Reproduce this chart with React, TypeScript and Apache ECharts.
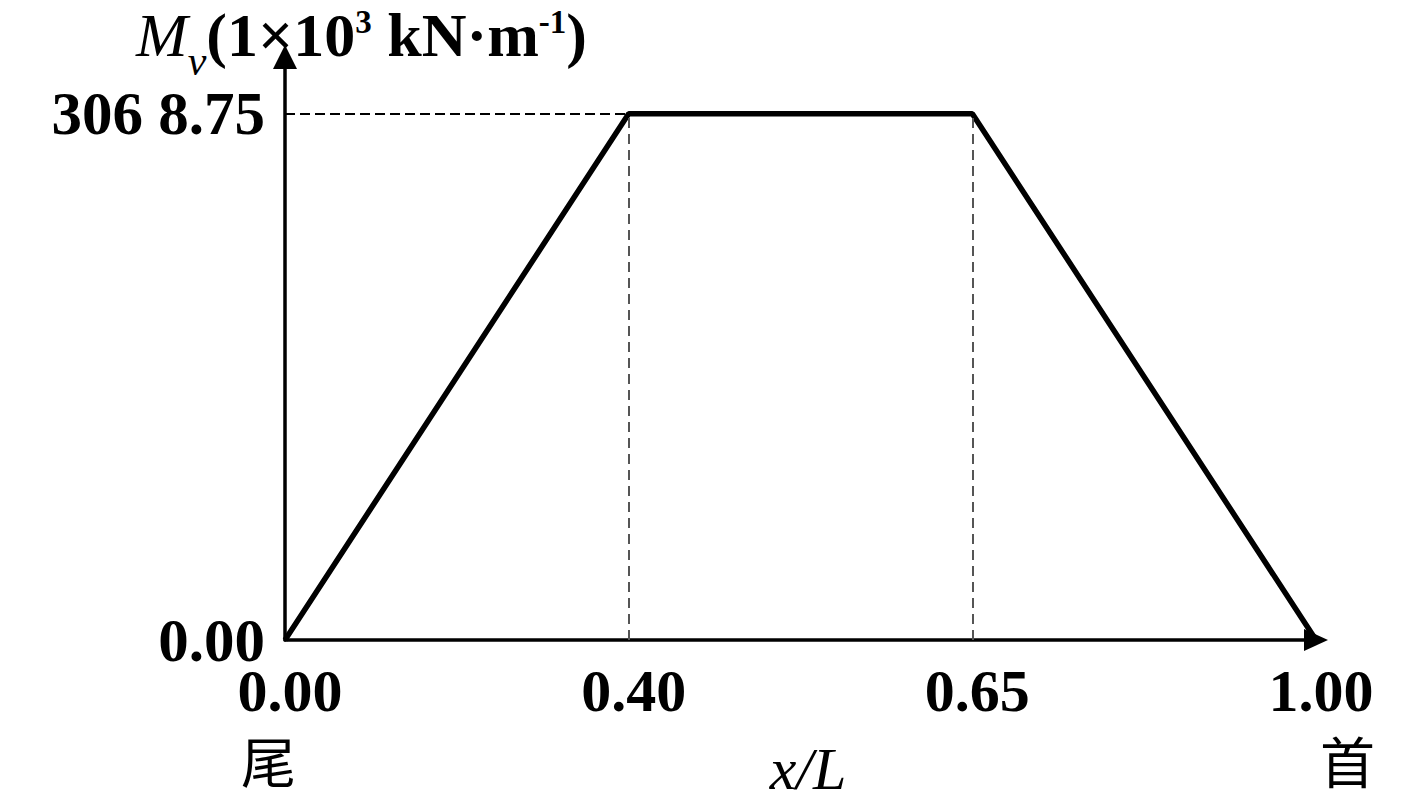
import React, { useEffect, useRef } from "react";
import * as echarts from "echarts";

const categories = ["0.00", "0.40", "0.65", "1.00"];
const endNames = ["尾", "", "", "首"];
const momentValues = [0, 3068.75, 3068.75, 0];
const yTickValues = [0, 3068.75];
const yTickLabels = ["0.00", "306 8.75"];
const yMax = 3400;

const SERIF = "'Liberation Serif', 'Times New Roman', serif";
const CJK = "'Noto Sans CJK SC', sans-serif";

export default function App() {
  const ref = useRef<HTMLDivElement>(null);

  useEffect(() => {
    document.body.style.margin = "0";
    document.body.style.overflow = "hidden";
    if (!ref.current) return;
    const chart = echarts.init(ref.current, null, { renderer: "svg" });
    const peak = momentValues[1];
    chart.setOption({
      animation: false,
      backgroundColor: "#ffffff",
      title: {
        left: 136,
        top: 5,
        padding: 0,
        text: "{mi|M}{sub|v}{b|(1×10}{sup|3}{b| kN·m}{sup|-1}{b|)}",
        textStyle: {
          rich: {
            mi: { fontFamily: SERIF, fontStyle: "italic", fontWeight: "normal", fontSize: 62, height: 60, lineHeight: 60, verticalAlign: "top", color: "#000" },
            sub: { fontFamily: SERIF, fontStyle: "italic", fontWeight: "normal", fontSize: 42, height: 112, lineHeight: 60, verticalAlign: "top", color: "#000" },
            b: { fontFamily: SERIF, fontWeight: "bold", fontSize: 62, height: 60, lineHeight: 60, verticalAlign: "top", color: "#000" },
            sup: { fontFamily: SERIF, fontWeight: "bold", fontSize: 33, height: 34, lineHeight: 60, verticalAlign: "top", color: "#000" },
          },
        },
      },
      grid: {
        left: 285,
        right: 101,
        top: 57,
        bottom: 161,
        containLabel: false,
        outerBoundsMode: "none",
      },
      xAxis: [
        {
          type: "category",
          data: categories,
          boundaryGap: false,
          name: "{i|x/L}",
          nameLocation: "middle",
          nameGap: 104,
          nameMoveOverlap: false,
          nameTextStyle: {
            padding: [0, 0, 0, 15],
            rich: {
              i: { fontFamily: SERIF, fontStyle: "italic", fontSize: 60, lineHeight: 50, color: "#000" },
            },
          },
          axisLine: {
            show: true,
            symbol: ["none", "triangle"],
            symbolSize: [22, 24],
            lineStyle: { color: "#000", width: 3.5 },
          },
          axisTick: { show: false },
          splitLine: { show: false },
          axisLabel: {
            margin: 21,
            interval: 0,
            padding: [0, 0, 0, 10],
            fontFamily: SERIF,
            fontWeight: "bold",
            fontSize: 60,
            lineHeight: 60,
            color: "#000",
          },
        },
        {
          type: "category",
          data: categories,
          boundaryGap: false,
          position: "bottom",
          axisLine: { show: false },
          axisTick: { show: false },
          splitLine: { show: false },
          axisLabel: {
            margin: 91,
            interval: 0,
            formatter: (_v: string, idx: number) => {
              const n = endNames[idx];
              if (!n) return "";
              return `{${idx === 0 ? "cnL" : "cnR"}|${n}}`;
            },
            rich: {
              cnL: { fontFamily: CJK, fontSize: 55, lineHeight: 56, color: "#000", padding: [0, 33, 0, 0] },
              cnR: { fontFamily: CJK, fontSize: 55, lineHeight: 56, color: "#000", padding: [0, 0, 0, 63] },
            },
          },
        },
      ],
      yAxis: {
        type: "value",
        min: 0,
        max: yMax,
        axisLine: {
          show: true,
          symbol: ["none", "triangle"],
          symbolSize: [24, 24],
          lineStyle: { color: "#000", width: 3.5 },
        },
        axisTick: { show: false },
        splitLine: { show: false },
        axisLabel: {
          customValues: yTickValues,
          margin: 20,
          fontFamily: SERIF,
          fontWeight: "bold",
          fontSize: 61,
          color: "#000",
          formatter: (v: number) => {
            const i = yTickValues.indexOf(v);
            return i >= 0 ? yTickLabels[i] : "";
          },
        },
      },
      series: [
        {
          type: "line",
          xAxisIndex: 0,
          data: momentValues,
          symbol: "none",
          lineStyle: { color: "#000", width: 5.5 },
          markLine: {
            silent: true,
            symbol: ["none", "none"],
            label: { show: false },
            data: [
              [
                { coord: [categories[0], peak], lineStyle: { color: "#000", width: 2, type: [10, 5] } },
                { coord: [categories[1], peak] },
              ],
              [
                { coord: [categories[1], 0], lineStyle: { color: "#555", width: 2, type: [10, 6] } },
                { coord: [categories[1], peak] },
              ],
              [
                { coord: [categories[2], 0], lineStyle: { color: "#555", width: 2, type: [10, 6] } },
                { coord: [categories[2], peak] },
              ],
            ],
          },
        },
      ],
    });
    return () => chart.dispose();
  }, []);

  return <div ref={ref} style={{ width: 1417, height: 801 }} />;
}
